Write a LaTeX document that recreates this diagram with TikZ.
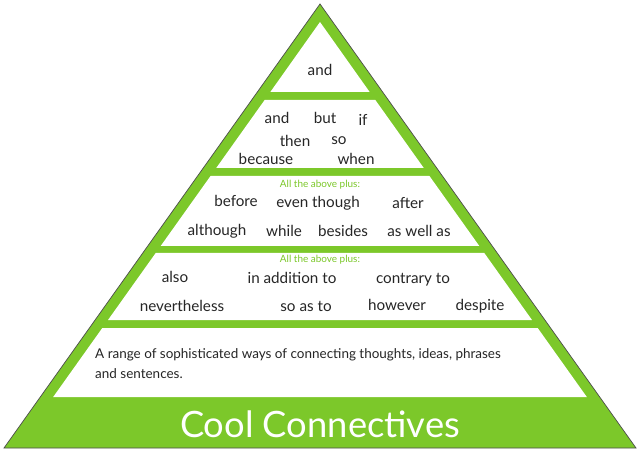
\documentclass[tikz,border=0pt]{standalone}
\usepackage{fontspec}
\setmainfont{Lato}
\definecolor{coolgreen}{RGB}{124,200,42}
\tikzset{
  word/.style={font=\fontsize{13}{15}\selectfont, text=black!85, inner sep=0pt},
  plus/.style={font=\fontsize{8.5}{9}\selectfont, text=coolgreen, inner sep=0pt},
  band/.style={fill=white}
}
% half width of a white band at height y
\newcommand{\hw}[1]{((#1-4)*0.712-13)}
\begin{document}
\begin{tikzpicture}[x=0.03cm,y=-0.03cm]
\useasboundingbox (0,0) rectangle (638,452);
\fill[white] (0,0) rectangle (638,452);
\draw[fill=coolgreen, draw=black!70, line width=0.6pt] (320,4) -- (636,448) -- (4,448) -- cycle;

% white bands
\fill[band] (320,22) -- ({320+\hw{92}},92) -- ({320-\hw{92}},92) -- cycle;
\foreach \ya/\yb in {100/168, 176/246, 253/320, 328/397}
  \fill[band] ({320-\hw{\ya}},\ya) -- ({320+\hw{\ya}},\ya) -- ({320+\hw{\yb}},\yb) -- ({320-\hw{\yb}},\yb) -- cycle;

\node[word] (and1) at (320,70) {and};

\node[word] (and2) at (277,118) {and};
\node[word] (but) at (325,118) {but};
\node[word] (if) at (363,120) {if};
\node[word] (then) at (295,141) {then};
\node[word] (so) at (339,141) {so};
\node[word] (because) at (266,159) {because};
\node[word] (when) at (356,159) {when};

\node[plus] (plusa) at (320,185) {All the above plus:};
\node[word] (before) at (236,201) {before};
\node[word] (eventhough) at (318,203) {even though};
\node[word] (after) at (408,203) {after};
\node[word] (although) at (217,231) {although};
\node[word] (while) at (284,231) {while};
\node[word] (besides) at (343,231) {besides};
\node[word] (aswellas) at (419,231) {as well as};

\node[plus] (plusb) at (320,260) {All the above plus:};
\node[word] (also) at (175,277) {also};
\node[word] (inaddition) at (292,278) {in addition to};
\node[word] (contrary) at (413,280) {contrary to};
\node[word] (nevertheless) at (182,306) {nevertheless};
\node[word] (soasto) at (306,306) {so as to};
\node[word] (however) at (397,305) {however};
\node[word] (despite) at (480,306) {despite};

\node[word, font=\fontsize{11.5}{17}\selectfont, anchor=north west, align=left] (range) at (95,348)
  {A range of sophisticated ways of connecting thoughts, ideas, phrases\\and sentences.};

\node[font=\fontsize{31}{34}\selectfont, text=white, inner sep=0pt] (title) at (320,424) {Cool Connectives};
\end{tikzpicture}
\end{document}
